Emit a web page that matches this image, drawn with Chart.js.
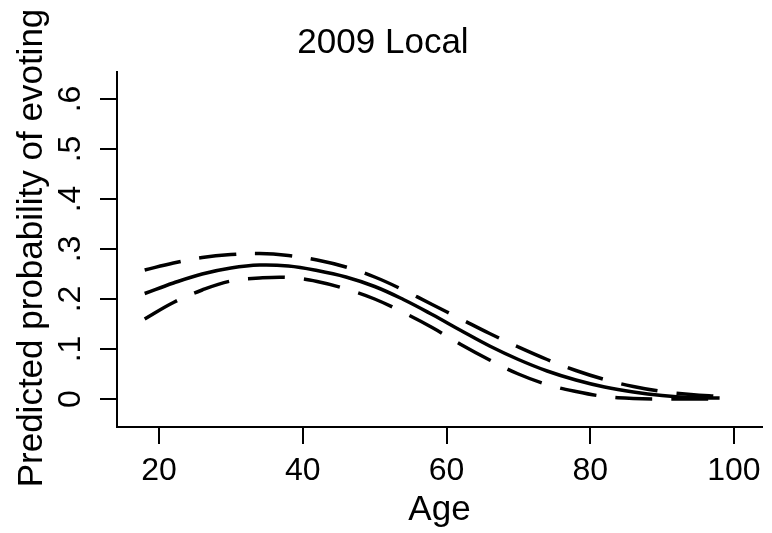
<!DOCTYPE html>
<html>
<head>
<meta charset="utf-8">
<script src="https://cdn.jsdelivr.net/npm/chart.js@4/dist/chart.umd.min.js"></script>
<style>
  body { margin: 0; background: #fff; }
  canvas { display: block; }
</style>
</head>
<body>
<canvas id="c" width="772" height="533"></canvas>
<script>
// ages along the x axis
const ages = [18, 22, 26, 30, 34, 38, 42, 46, 50, 54, 58, 62, 66, 70, 74, 78, 82, 86, 90, 94, 98];
// predicted probability and its bounds
const predicted = [.211, .232, .250, .262, .268, .266, .257, .244, .225, .199, .169, .137, .106, .079, .056, .038, .024, .014, .007, .003, .002];
const upper = [.258, .272, .283, .289, .291, .287, .278, .264, .244, .218, .189, .160, .131, .104, .079, .057, .039, .025, .015, .009, .005];
const lower = [.160, .193, .218, .236, .242, .243, .235, .220, .200, .173, .143, .109, .078, .050, .029, .015, .005, .001, 0, 0, 0];

const xTicks = [20, 40, 60, 80, 100];
const yTicks = [0, .1, .2, .3, .4, .5, .6];
const yTickLabels = ["0", ".1", ".2", ".3", ".4", ".5", ".6"];

const titleText = "2009 Local";
const xTitle = "Age";
const yTitle = "Predicted probability of evoting";

const FONT = '"Liberation Sans", Arial, Helvetica, sans-serif';

function pts(vals) {
  return ages.map((a, i) => ({ x: a, y: vals[i] }));
}

const textPlugin = {
  id: "texts",
  afterDraw(chart) {
    const ctx = chart.ctx;
    const xs = chart.scales.x, ys = chart.scales.y;
    const area = chart.chartArea;
    ctx.save();
    ctx.fillStyle = "#000";

    // title
    ctx.font = "35px " + FONT;
    ctx.textAlign = "center";
    ctx.textBaseline = "alphabetic";
    ctx.fillText(titleText, 383, 53);

    // x tick labels
    ctx.font = "32px " + FONT;
    xTicks.forEach(v => {
      ctx.fillText(String(v), xs.getPixelForValue(v), 480);
    });

    // x title
    ctx.font = "35px " + FONT;
    ctx.fillText(xTitle, (area.left + area.right) / 2, 520);

    // y tick labels, rotated
    ctx.font = "32px " + FONT;
    yTicks.forEach((v, i) => {
      ctx.save();
      ctx.translate(80, ys.getPixelForValue(v));
      ctx.rotate(-Math.PI / 2);
      ctx.fillText(yTickLabels[i], 0, 0);
      ctx.restore();
    });

    // y title
    ctx.font = "35px " + FONT;
    ctx.save();
    ctx.translate(42, 248);
    ctx.rotate(-Math.PI / 2);
    ctx.fillText(yTitle, 0, 0);
    ctx.restore();

    ctx.restore();
  }
};

new Chart(document.getElementById("c"), {
  type: "line",
  data: {
    datasets: [
      {
        data: pts(upper),
        borderColor: "#000",
        borderWidth: 3.5,
        borderDash: [37, 19],
        pointRadius: 0,
        fill: false
      },
      {
        data: pts(predicted),
        borderColor: "#000",
        borderWidth: 3.5,
        pointRadius: 0,
        fill: false
      },
      {
        data: pts(lower),
        borderColor: "#000",
        borderWidth: 3.5,
        borderDash: [37, 19],
        pointRadius: 0,
        fill: false
      }
    ]
  },
  options: {
    responsive: false,
    animation: false,
    devicePixelRatio: 1,
    elements: { line: { tension: 0.4 } },
    layout: { padding: { left: 0, top: 72, right: 10, bottom: 0 } },
    plugins: {
      legend: { display: false },
      tooltip: { enabled: false },
      title: { display: false }
    },
    scales: {
      x: {
        type: "linear",
        min: 14.15,
        max: 103.9,
        afterBuildTicks: s => { s.ticks = xTicks.map(v => ({ value: v })); },
        afterFit: s => { s.height = 106; },
        ticks: { display: false },
        grid: { drawOnChartArea: false, drawTicks: true, tickLength: 17, color: "#000", lineWidth: 2 },
        border: { display: true, color: "#000", width: 2 }
      },
      y: {
        type: "linear",
        min: -0.056,
        max: 0.654,
        afterBuildTicks: s => { s.ticks = yTicks.map(v => ({ value: v })); },
        afterFit: s => { s.width = 117; },
        ticks: { display: false },
        grid: { drawOnChartArea: false, drawTicks: true, tickLength: 17, color: "#000", lineWidth: 2 },
        border: { display: true, color: "#000", width: 2 }
      }
    }
  },
  plugins: [textPlugin]
});
</script>
</body>
</html>
